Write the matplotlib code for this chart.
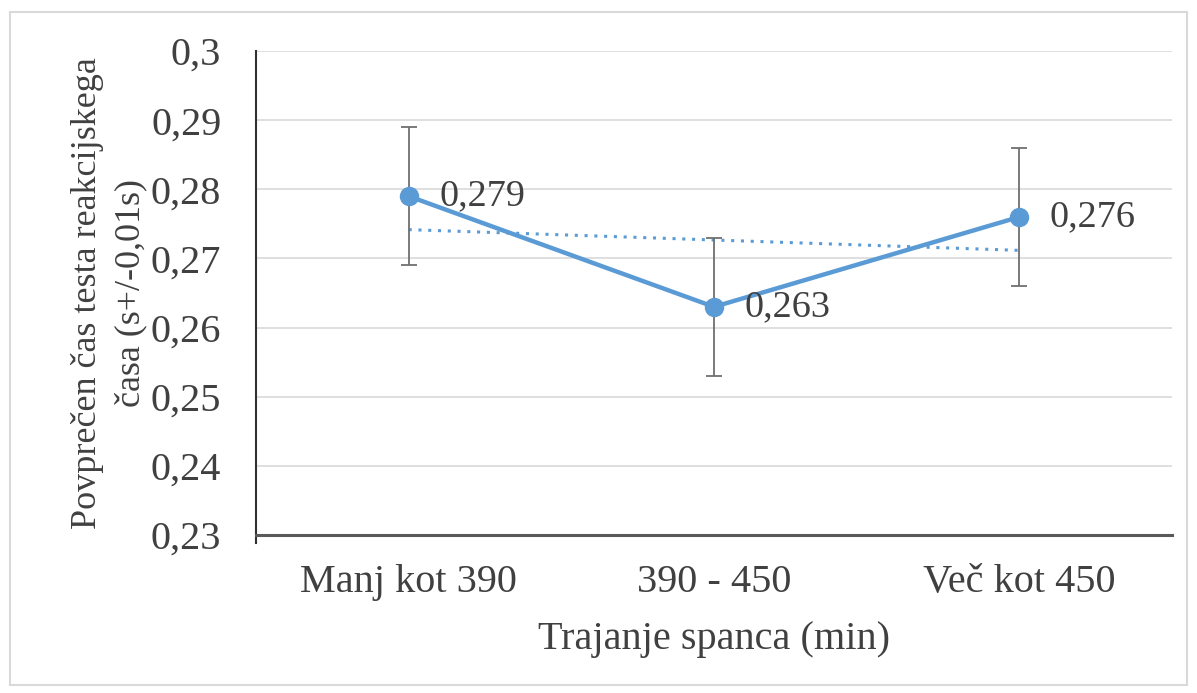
import numpy as np
import matplotlib.pyplot as plt
from matplotlib.patches import Rectangle

categories = ["Manj kot 390", "390 - 450", "Več kot 450"]
values = [0.279, 0.263, 0.276]
errors = [0.01, 0.01, 0.01]
value_labels = ["0,279", "0,263", "0,276"]
y_ticks = [0.23, 0.24, 0.25, 0.26, 0.27, 0.28, 0.29, 0.30]
y_tick_labels = ["0,23", "0,24", "0,25", "0,26", "0,27", "0,28", "0,29", "0,3"]

BLUE = "#5B9BD5"
TEXT = "#404040"

plt.rcParams["font.family"] = ["Liberation Serif", "DejaVu Serif"]

fig = plt.figure(figsize=(11.97, 6.93), dpi=100)
ax = fig.add_axes([256 / 1197, 1 - 535 / 693, (1172 - 256) / 1197, (535 - 51) / 693])

x = np.arange(len(categories))

# linear trend over the three groups (Excel style x = 1..n)
xs = x + 1
slope, intercept = np.polyfit(xs, values, 1)
ax.plot(x, slope * xs + intercept, color=BLUE, lw=2.2, ls=(0, (1, 2.2)), zorder=2)

ax.errorbar(x, values, yerr=errors, fmt="none", ecolor="#707070", elinewidth=1.3,
            capsize=6, capthick=1.3, zorder=3)
ax.plot(x, values, color=BLUE, lw=3.2, marker="o", ms=13, zorder=4)

for xi, v, lab in zip(x, values, value_labels):
    ax.annotate(lab, (xi, v), xytext=(22, 0), textcoords="offset points",
                ha="left", va="center", fontsize=27.5, color=TEXT, zorder=5)

ax.set_xlim(-0.5, 2.5)
ax.set_ylim(0.23, 0.30)
ax.set_yticks(y_ticks)
ax.set_yticklabels(y_tick_labels)
ax.set_xticks(x)
ax.set_xticklabels(categories)
ax.tick_params(axis="both", length=0, labelsize=29, colors=TEXT)
ax.tick_params(axis="y", pad=25)
ax.tick_params(axis="x", pad=21)
ax.grid(axis="y", color="#d9d9d9", lw=1.2)
ax.set_axisbelow(True)

for side in ["top", "right"]:
    ax.spines[side].set_visible(False)
ax.spines["left"].set_color("#303030")
ax.spines["left"].set_linewidth(1.5)
ax.spines["left"].set_bounds(0.2288, 0.3)
ax.spines["bottom"].set_color("#595959")
ax.spines["bottom"].set_linewidth(2.2)

ax.set_xlabel("Trajanje spanca (min)", fontsize=29, color=TEXT, labelpad=14)
ax.set_ylabel("Povprečen čas testa reakcijskega\nčasa (s+/-0,01s)", fontsize=26,
              color=TEXT, linespacing=1.38)
ax.yaxis.set_label_coords(-0.119, 0.5)

# light frame around the whole chart
fig.patches.append(Rectangle((10 / 1197, 8 / 693), 1177 / 1197, 673 / 693,
                             transform=fig.transFigure, fill=False,
                             edgecolor="#d9d9d9", lw=1.5))

fig.savefig("out.png", dpi=100)
